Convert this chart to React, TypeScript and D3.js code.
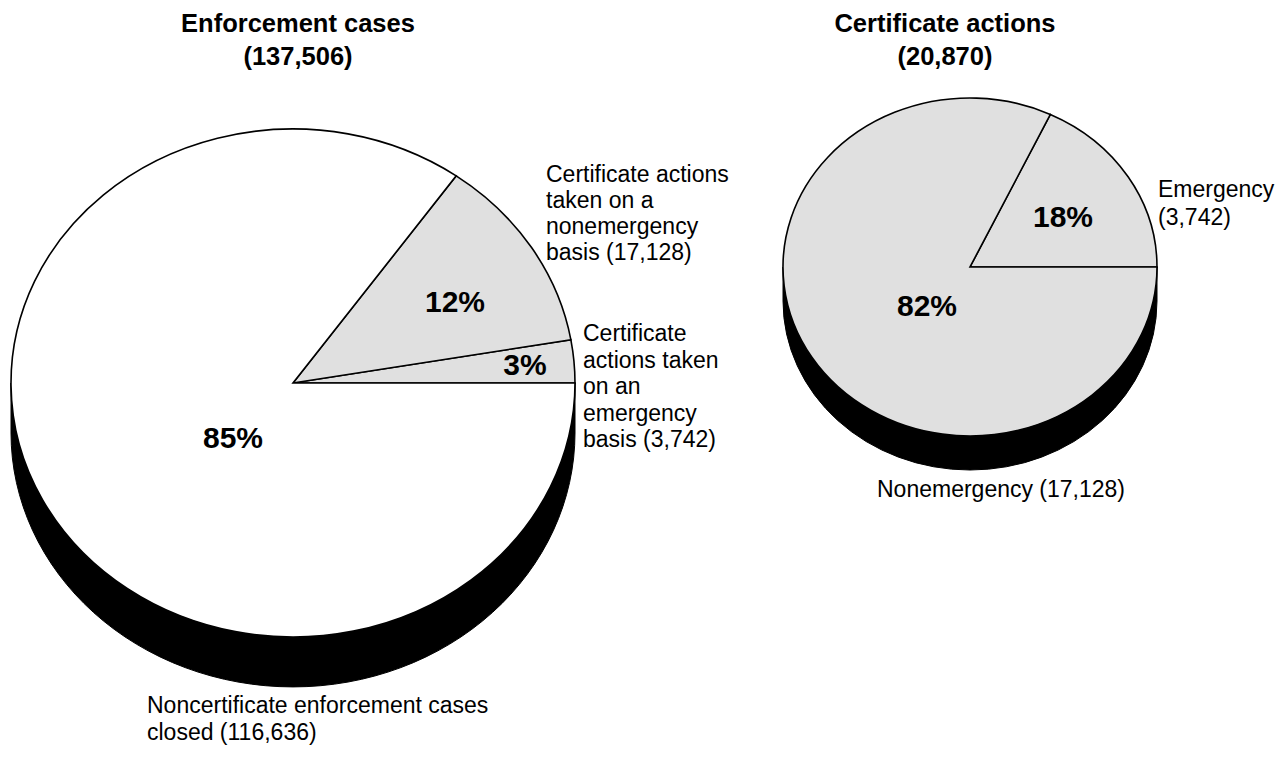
import React from "react";
import * as d3 from "d3";

// ---- data ----
const enforcementCategories = [
  "Certificate actions taken on an emergency basis",
  "Certificate actions taken on a nonemergency basis",
  "Noncertificate enforcement cases closed",
];
const enforcementValues = [3742, 17128, 116636];
const enforcementPercents = ["3%", "12%", "85%"];
const enforcementFills = ["#e0e0e0", "#e0e0e0", "#ffffff"];
const enforcementTitle = ["Enforcement cases", "(137,506)"];

const certificateCategories = ["Emergency", "Nonemergency"];
const certificateValues = [3742, 17128];
const certificatePercents = ["18%", "82%"];
const certificateFills = ["#e0e0e0", "#e0e0e0"];
const certificateTitle = ["Certificate actions", "(20,870)"];

const FONT = "Arial, 'Liberation Sans', Helvetica, sans-serif";

type PieSpec = {
  cx: number;
  cy: number;
  rx: number;
  ry: number;
  depth: number;
  values: number[];
  fills: string[];
  percents: string[];
  pctPos: [number, number][]; // offsets from centre (label anchor middle, baseline)
};

function Pie3D({ spec }: { spec: PieSpec }) {
  const { cx, cy, rx, ry, depth, values, fills, percents, pctPos } = spec;
  // counter-clockwise from 3 o'clock: d3 angle a = PI/2 - t
  const pie = d3
    .pie<number>()
    .sort(null)
    .value((d) => d)
    .startAngle(Math.PI / 2)
    .endAngle(Math.PI / 2 - 2 * Math.PI);
  const arcs = pie(values);
  const arc = d3.arc<d3.PieArcDatum<number>>().innerRadius(0).outerRadius(rx);
  const sy = ry / rx;

  const side = `M${cx - rx},${cy} A${rx},${ry} 0 0 0 ${cx + rx},${cy} L${cx + rx},${cy + depth} A${rx},${ry} 0 0 1 ${cx - rx},${cy + depth} Z`;

  return (
    <g>
      <path d={side} fill="#000" stroke="#000" strokeWidth={1} />
      <g transform={`translate(${cx},${cy}) scale(1,${sy})`}>
        {arcs.map((a, i) => (
          <path
            key={i}
            d={arc(a) || ""}
            fill={fills[i]}
            stroke="#000"
            strokeWidth={1.6}
            strokeLinejoin="miter"
            vectorEffect="non-scaling-stroke"
          />
        ))}
      </g>
      {percents.map((p, i) => (
        <text
          key={i}
          x={cx + pctPos[i][0]}
          y={cy + pctPos[i][1]}
          textAnchor="middle"
          fontFamily={FONT}
          fontWeight="bold"
          fontSize={30}
          fill="#000"
        >
          {p}
        </text>
      ))}
    </g>
  );
}

function MultiText({
  x,
  y,
  lines,
  lh,
  size = 23,
  bold = false,
  anchor = "start",
}: {
  x: number;
  y: number;
  lines: string[];
  lh: number;
  size?: number;
  bold?: boolean;
  anchor?: string;
}) {
  return (
    <text
      x={x}
      y={y}
      fontFamily={FONT}
      fontSize={size}
      fontWeight={bold ? "bold" : "normal"}
      textAnchor={anchor as any}
      fill="#000"
    >
      {lines.map((l, i) => (
        <tspan key={i} x={x} dy={i === 0 ? 0 : lh}>
          {l}
        </tspan>
      ))}
    </text>
  );
}

export default function App() {
  const left: PieSpec = {
    cx: 293,
    cy: 383,
    rx: 282,
    ry: 254,
    depth: 50,
    values: enforcementValues,
    fills: enforcementFills,
    percents: enforcementPercents,
    pctPos: [
      [232, -8],
      [162, -71],
      [-60, 65],
    ],
  };
  const right: PieSpec = {
    cx: 970,
    cy: 267,
    rx: 187,
    ry: 169,
    depth: 34,
    values: certificateValues,
    fills: certificateFills,
    percents: certificatePercents,
    pctPos: [
      [93, -40],
      [-43, 49],
    ],
  };

  return (
    <svg
      width={1284}
      height={772}
      style={{ position: "absolute", left: 0, top: 0, display: "block", background: "#fff" }}
    >
      <rect x={0} y={0} width={1284} height={772} fill="#fff" />
      <MultiText x={298} y={32} lines={enforcementTitle} lh={33} size={25.5} bold anchor="middle" />
      <MultiText x={945} y={32} lines={certificateTitle} lh={33} size={25.5} bold anchor="middle" />

      <Pie3D spec={left} />
      <Pie3D spec={right} />

      <MultiText
        x={546}
        y={182}
        lines={["Certificate actions", "taken on a", "nonemergency", "basis (17,128)"]}
        lh={26}
      />
      <MultiText
        x={583}
        y={341}
        lines={["Certificate", "actions taken", "on an", "emergency", "basis (3,742)"]}
        lh={26.6}
      />
      <MultiText
        x={147}
        y={713}
        lines={["Noncertificate enforcement cases", "closed (116,636)"]}
        lh={26.5}
      />
      <MultiText x={1158} y={197} lines={["Emergency", "(3,742)"]} lh={28} />
      <MultiText x={877} y={497} lines={["Nonemergency (17,128)"]} lh={26} />
    </svg>
  );
}
